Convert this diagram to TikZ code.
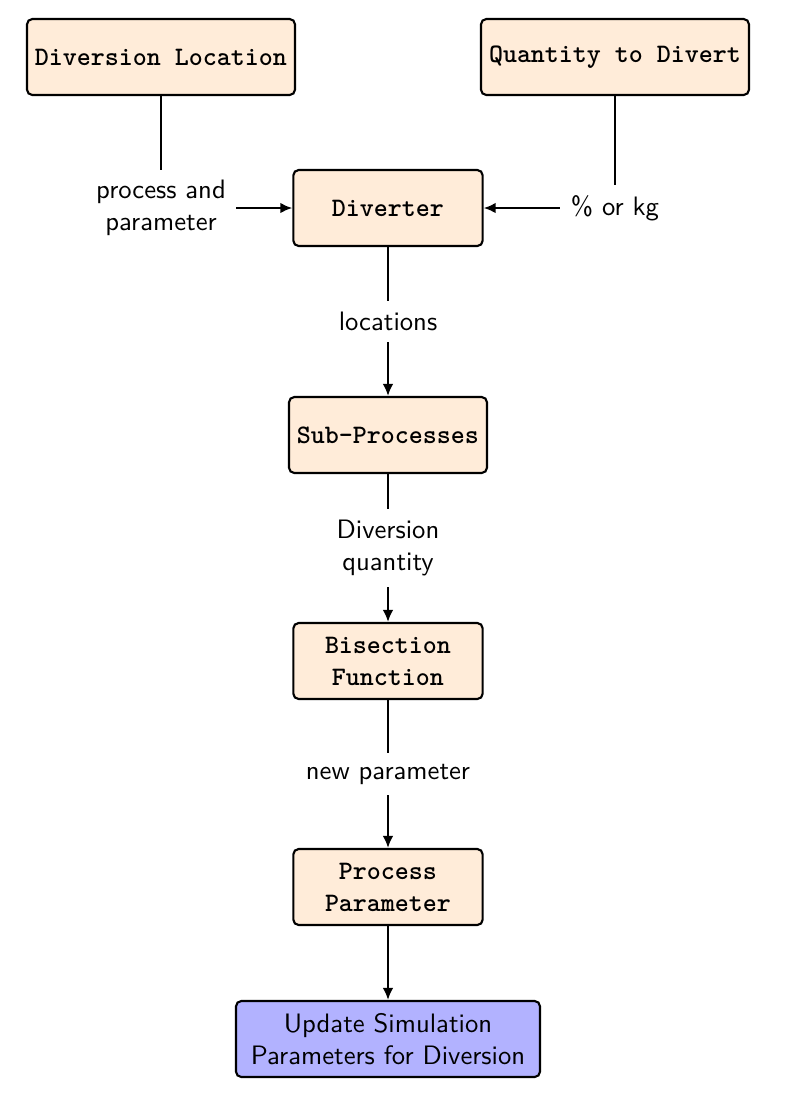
\documentclass[tikz,border=0pt]{standalone}
\usepackage{amsmath, amssymb}
\usepackage{tikz}
\usetikzlibrary{arrows.meta}

\begin{document}
\begin{tikzpicture}[x=0.375pt, y=-0.375pt, >={Latex[length=4.5pt, width=4pt]},
        block/.style={rectangle, rounded corners=2pt, draw=black, thick,
            fill=orange!15, minimum width=71pt, minimum height=28.5pt,
            inner sep=3pt, align=center, font=\ttfamily\bfseries},
        finalbox/.style={block, fill=blue!30, minimum width=114pt,
            font=\sffamily},
        edgetext/.style={fill=white, inner sep=4pt, align=center,
            font=\sffamily}]
            \useasboundingbox (0,0) rectangle (810,1113);
            % Inputs
            \node[block] (Loc) at (161,57) {Diversion Location};
            \node[block] (Qty) at (615,57) {Quantity to Divert};
            % Chain
            \node[block] (Div) at (388,208) {Diverter};
            \node[block] (Sub) at (388,435) {Sub-Processes};
            \node[block] (Bis) at (388,661) {Bisection\\Function};
            \node[block] (Par) at (388,887) {Process\\Parameter};
            % Result
            \node[finalbox] (Upd) at (388,1039) {Update Simulation\\Parameters for Diversion};
            % Arrows
            \draw[thick, ->] (Loc) |- node[edgetext] {process and\\parameter} (Div);
            \draw[thick, ->] (Qty) |- node[edgetext] {\% or kg} (Div);
            \foreach \a/\b/\t in {Div/Sub/locations, Sub/Bis/{Diversion\\quantity}, Bis/Par/new parameter} {
                \draw[thick, ->] (\a) -- node[edgetext] {\t} (\b);
            }
            \draw[thick, ->] (Par) -- (Upd);
        \end{tikzpicture}
\end{document}
